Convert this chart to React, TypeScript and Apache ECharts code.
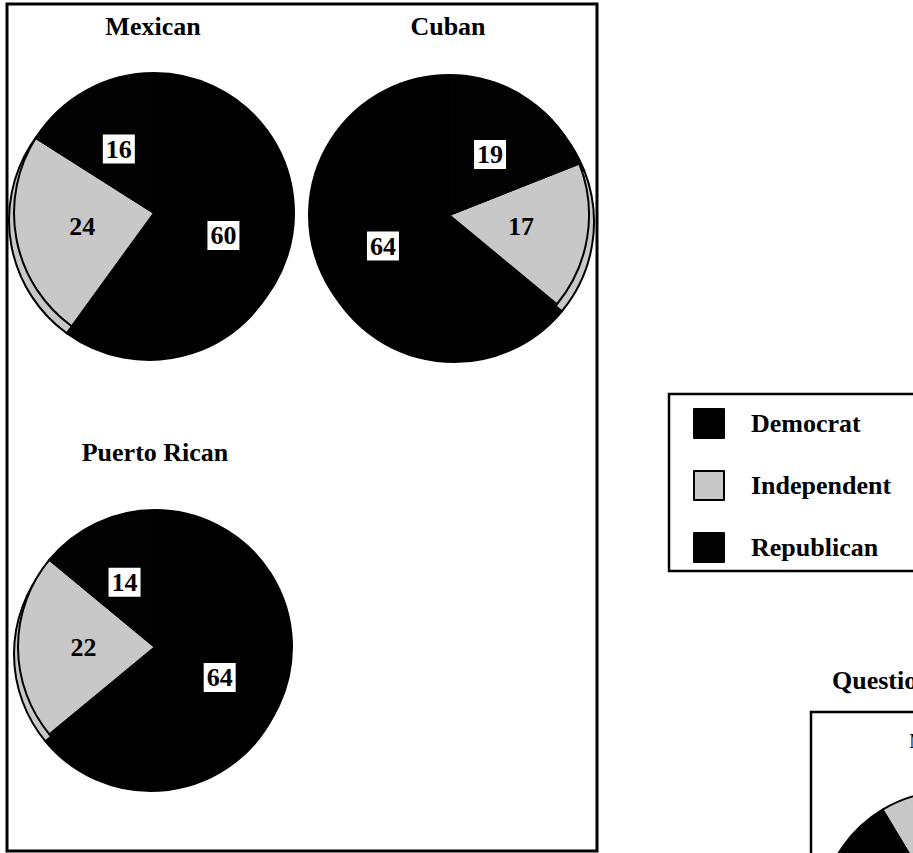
import React, { useEffect, useRef } from "react";
import * as echarts from "echarts";

const parties = ["Democrat", "Independent", "Republican"];
const mexican = [60, 24, 16];
const cuban = [64, 17, 19];
const puertoRican = [64, 22, 14];
// pie cut off at the right edge of the page (only a sliver is visible)
const questionParties = ["Independent", "Republican", "Democrat"];
const questionValues = [25, 20, 55];
const titles = ["Mexican", "Cuban", "Puerto Rican"];
const questionTitle = "Question";

const colorOf: Record<string, string> = {
  Democrat: "#000000",
  Independent: "#c8c8c8",
  Republican: "#020202",
};

const SERIF = '"Liberation Serif", "Times New Roman", serif';

function items(names: string[], values: number[], withLabel: boolean) {
  return names.map((name, i) => ({
    name,
    value: values[i],
    itemStyle: { color: colorOf[name] },
    label: withLabel
      ? {
          backgroundColor: name === "Independent" ? "transparent" : "#ffffff",
        }
      : { show: false },
  }));
}

function pie(
  names: string[],
  values: number[],
  center: [number, number],
  radius: number,
  clockwise: boolean,
  startAngle: number,
  depth: [number, number] | null
) {
  const out: any[] = [];
  if (depth) {
    out.push({
      type: "pie",
      center: [center[0] + depth[0], center[1] + depth[1]],
      radius,
      clockwise,
      startAngle,
      silent: true,
      z: 1,
      avoidLabelOverlap: false,
      label: { show: false },
      labelLine: { show: false },
      itemStyle: { borderColor: "#000", borderWidth: 2 },
      data: items(names, values, false),
    });
  }
  out.push({
    type: "pie",
    center,
    radius,
    clockwise,
    startAngle,
    silent: true,
    z: 2,
    avoidLabelOverlap: false,
    labelLine: { show: false },
    itemStyle: { borderColor: "#000", borderWidth: 2 },
    label: {
      show: true,
      position: "inside",
      formatter: "{c}",
      color: "#000",
      fontFamily: SERIF,
      fontWeight: "bold",
      fontSize: 26,
      lineHeight: 27,
      padding: [2, 3, 0, 3],
    },
    data: items(names, values, true),
  });
  return out;
}

function txt(text: string, x: number, y: number, font: string, align = "center") {
  return {
    type: "text",
    x,
    y,
    z: 10,
    style: {
      text,
      fill: "#000",
      font,
      align,
      verticalAlign: "middle",
      textAlign: align,
      textVerticalAlign: "middle",
    },
  };
}

export default function App() {
  const ref = useRef<HTMLDivElement>(null);
  useEffect(() => {
    if (!ref.current) return;
    const chart = echarts.init(ref.current, undefined, { renderer: "svg" });
    const boldFont = `bold 26px ${SERIF}`;
    chart.setOption({
      animation: false,
      backgroundColor: "#ffffff",
      legend: {
        data: parties,
        orient: "vertical",
        left: 693,
        top: 408,
        padding: 0,
        itemWidth: 30,
        itemHeight: 29,
        itemGap: 31,
        icon: "rect",
        selectedMode: false,
        textStyle: {
          fontFamily: SERIF,
          fontWeight: "bold",
          fontSize: 26,
          lineHeight: 29,
          color: "#000",
          padding: [0, 0, 0, 22],
        },
      },
      graphic: [
        {
          type: "rect",
          shape: { x: 7, y: 4, width: 590, height: 847 },
          style: { fill: "none", stroke: "#000", lineWidth: 3 },
          z: 0,
        },
        {
          type: "rect",
          shape: { x: 669, y: 394, width: 260, height: 177 },
          style: { fill: "none", stroke: "#000", lineWidth: 2.5 },
          z: 0,
        },
        {
          type: "rect",
          shape: { x: 811, y: 712, width: 200, height: 200 },
          style: { fill: "none", stroke: "#000", lineWidth: 2.5 },
          z: 0,
        },
        txt(titles[0], 153, 26, boldFont),
        txt(titles[1], 448, 26, boldFont),
        txt(titles[2], 155, 452, boldFont),
        txt(questionTitle, 832, 680, boldFont, "left"),
        txt("M", 909, 741, `21px ${SERIF}`, "left"),
      ],
      series: [
        ...pie(parties, mexican, [154, 213], 140, true, 90, [-5, 7]),
        ...pie(parties, cuban, [449, 215], 140, false, 90, [5, 7]),
        ...pie(parties, puertoRican, [155, 647], 137, true, 90, [-4, 7]),
        {
          type: "pie",
          center: [950, 922],
          radius: 131,
          clockwise: true,
          startAngle: 121,
          silent: true,
          z: 2,
          label: { show: false },
          labelLine: { show: false },
          itemStyle: { borderColor: "#000", borderWidth: 2 },
          data: items(questionParties, questionValues, false),
        },
      ],
    });
    return () => chart.dispose();
  }, []);
  return (
    <div
      ref={ref}
      style={{ position: "fixed", left: 0, top: 0, width: 913, height: 853 }}
    />
  );
}
